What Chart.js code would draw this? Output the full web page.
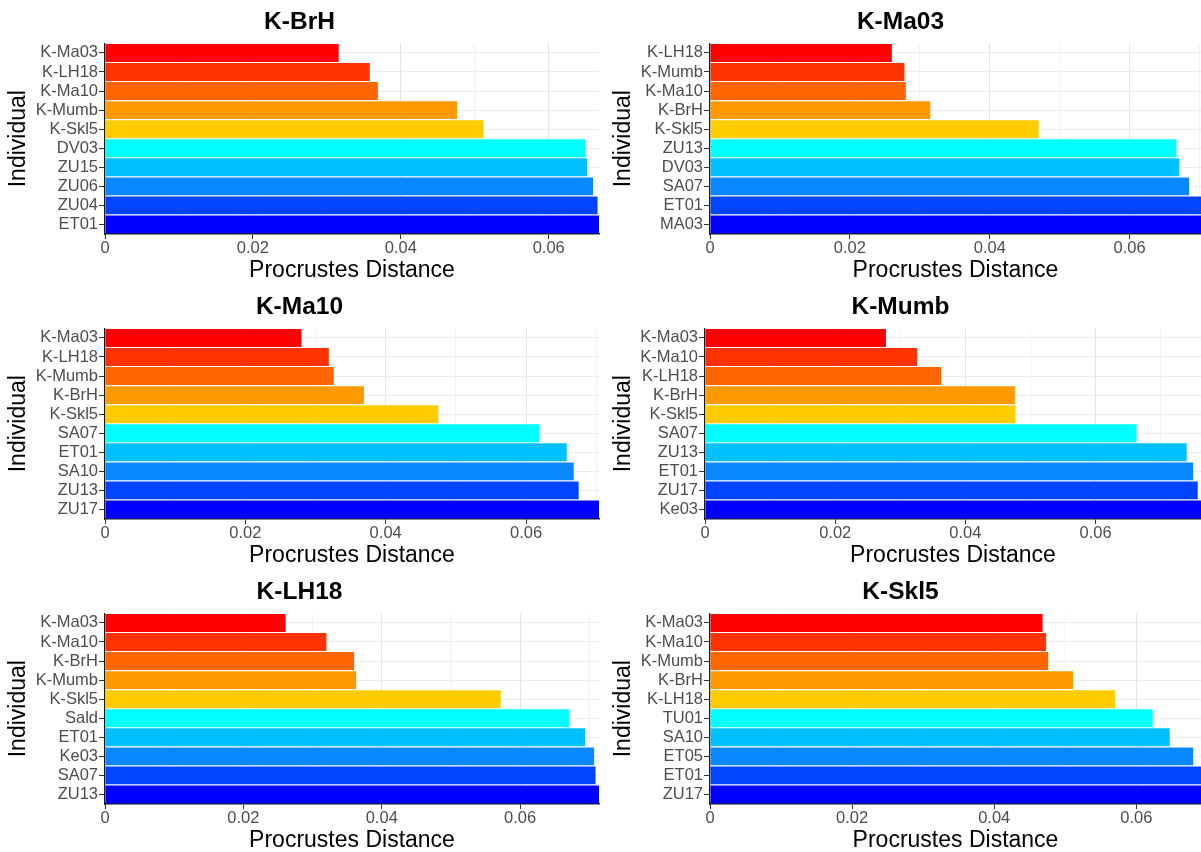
<!DOCTYPE html>
<html><head><meta charset="utf-8">
<script src="https://cdn.jsdelivr.net/npm/chart.js@4.4.1/dist/chart.umd.min.js"></script>
<style>
html,body{margin:0;padding:0;background:#fff;overflow:hidden;width:1201px;height:852px;position:relative;}
canvas{position:absolute;}
</style></head><body>
<canvas id="c1" width="612" height="285" style="left:0;top:0"></canvas>
<canvas id="c3" width="612" height="285" style="left:0;top:285px"></canvas>
<canvas id="c5" width="612" height="285" style="left:0;top:570px"></canvas>
<canvas id="c2" width="618" height="285" style="left:600px;top:0"></canvas>
<canvas id="c4" width="618" height="285" style="left:600px;top:285px"></canvas>
<canvas id="c6" width="618" height="285" style="left:600px;top:570px"></canvas>
<script>
// ---- data ----
const panelTitles = ['K-BrH', 'K-Ma03', 'K-Ma10', 'K-Mumb', 'K-LH18', 'K-Skl5'];

const brhLabels = ['K-Ma03','K-LH18','K-Ma10','K-Mumb','K-Skl5','DV03','ZU15','ZU06','ZU04','ET01'];
const brhValues = [0.0316,0.0358,0.0369,0.0476,0.0512,0.0650,0.0652,0.0660,0.0666,0.0668];

const ma03Labels = ['K-LH18','K-Mumb','K-Ma10','K-BrH','K-Skl5','ZU13','DV03','SA07','ET01','MA03'];
const ma03Values = [0.0260,0.0278,0.0280,0.0315,0.0470,0.0667,0.0671,0.0685,0.0703,0.0706];

const ma10Labels = ['K-Ma03','K-LH18','K-Mumb','K-BrH','K-Skl5','SA07','ET01','SA10','ZU13','ZU17'];
const ma10Values = [0.0280,0.0319,0.0326,0.0369,0.0475,0.0619,0.0658,0.0668,0.0675,0.0704];

const mumbLabels = ['K-Ma03','K-Ma10','K-LH18','K-BrH','K-Skl5','SA07','ZU13','ET01','ZU17','Ke03'];
const mumbValues = [0.0278,0.0326,0.0363,0.0476,0.0477,0.0663,0.0740,0.0750,0.0757,0.0765];

const lh18Labels = ['K-Ma03','K-Ma10','K-BrH','K-Mumb','K-Skl5','Sald','ET01','Ke03','SA07','ZU13'];
const lh18Values = [0.0261,0.0320,0.0360,0.0363,0.0572,0.0671,0.0694,0.0707,0.0709,0.0714];

const skl5Labels = ['K-Ma03','K-Ma10','K-Mumb','K-BrH','K-LH18','TU01','SA10','ET05','ET01','ZU17'];
const skl5Values = [0.0468,0.0473,0.0476,0.0511,0.0570,0.0623,0.0647,0.0680,0.0694,0.0697];

// visible x-axis upper limits per panel (brh, ma03, ma10, mumb, lh18, skl5)
const xMax = [0.0668, 0.0702, 0.0704, 0.0762, 0.0714, 0.0691];

const rankColors = ['#FF0000','#FF3300','#FF6600','#FF9900','#FFCC00','#00FFFF','#00C0FF','#0A88FF','#0044FF','#0000FF'];

// ---- drawing ----
const F = "'Liberation Sans', Arial, Helvetica, sans-serif";
function isMajor(v){ return Math.round(v*100) % 2 === 0; }

function makePanel(id, title, labels, values, max, yWidth, yTitlePad, rightPad){
  new Chart(document.getElementById(id), {
    type: 'bar',
    data: { labels: labels, datasets: [{ data: values, backgroundColor: rankColors, borderWidth: 0, barPercentage: 0.94, categoryPercentage: 1 }] },
    options: {
      indexAxis: 'y', responsive: false, animation: false,
      layout: { padding: { left: 0, right: rightPad, top: 0, bottom: 0 } },
      plugins: {
        legend: { display: false }, tooltip: { enabled: false },
        title: { display: true, text: title, color: '#000', font: { size: 24.5, weight: 'bold', family: F }, padding: { top: 8, bottom: 6 } }
      },
      scales: {
        x: {
          type: 'linear', min: 0, max: max,
          afterFit: s => { s.height = 51; },
          border: { display: true, color: '#1a1a1a', width: 1.5 },
          grid: {
            color: c => isMajor(c.tick.value) ? '#E4E4E4' : '#F2F2F2',
            tickColor: c => isMajor(c.tick.value) ? '#333' : 'rgba(0,0,0,0)',
            tickLength: 5, lineWidth: 1
          },
          ticks: {
            stepSize: 0.01, includeBounds: false, autoSkip: false, maxRotation: 0,
            color: '#4D4D4D', font: { size: 16.5, family: F }, padding: 0,
            callback: v => { const k = Math.round(v*100); if (k % 2) return ''; return k === 0 ? '0' : (k/100).toFixed(2); }
          },
          title: { display: true, text: 'Procrustes Distance', color: '#000', font: { size: 23, family: F }, padding: { top: 0, bottom: 1 } }
        },
        y: {
          afterFit: s => { s.width = yWidth; },
          border: { display: true, color: '#1a1a1a', width: 1.2 },
          grid: { offset: false, color: '#EBEBEB', tickColor: '#333', tickLength: 6 },
          ticks: { color: '#4D4D4D', font: { size: 16.5, family: F }, padding: 1, autoSkip: false },
          title: { display: true, text: 'Individual', color: '#000', font: { size: 23, family: F }, padding: { top: yTitlePad, bottom: 0 } }
        }
      }
    }
  });
}

makePanel('c1', panelTitles[0], brhLabels,  brhValues,  xMax[0], 105, 5, 13);
makePanel('c2', panelTitles[1], ma03Labels, ma03Values, xMax[1], 110, 10, 17);
makePanel('c3', panelTitles[2], ma10Labels, ma10Values, xMax[2], 105, 5, 13);
makePanel('c4', panelTitles[3], mumbLabels, mumbValues, xMax[3], 105, 10, 17);
makePanel('c5', panelTitles[4], lh18Labels, lh18Values, xMax[4], 105, 5, 13);
makePanel('c6', panelTitles[5], skl5Labels, skl5Values, xMax[5], 110, 10, 17);
</script>
</body></html>
